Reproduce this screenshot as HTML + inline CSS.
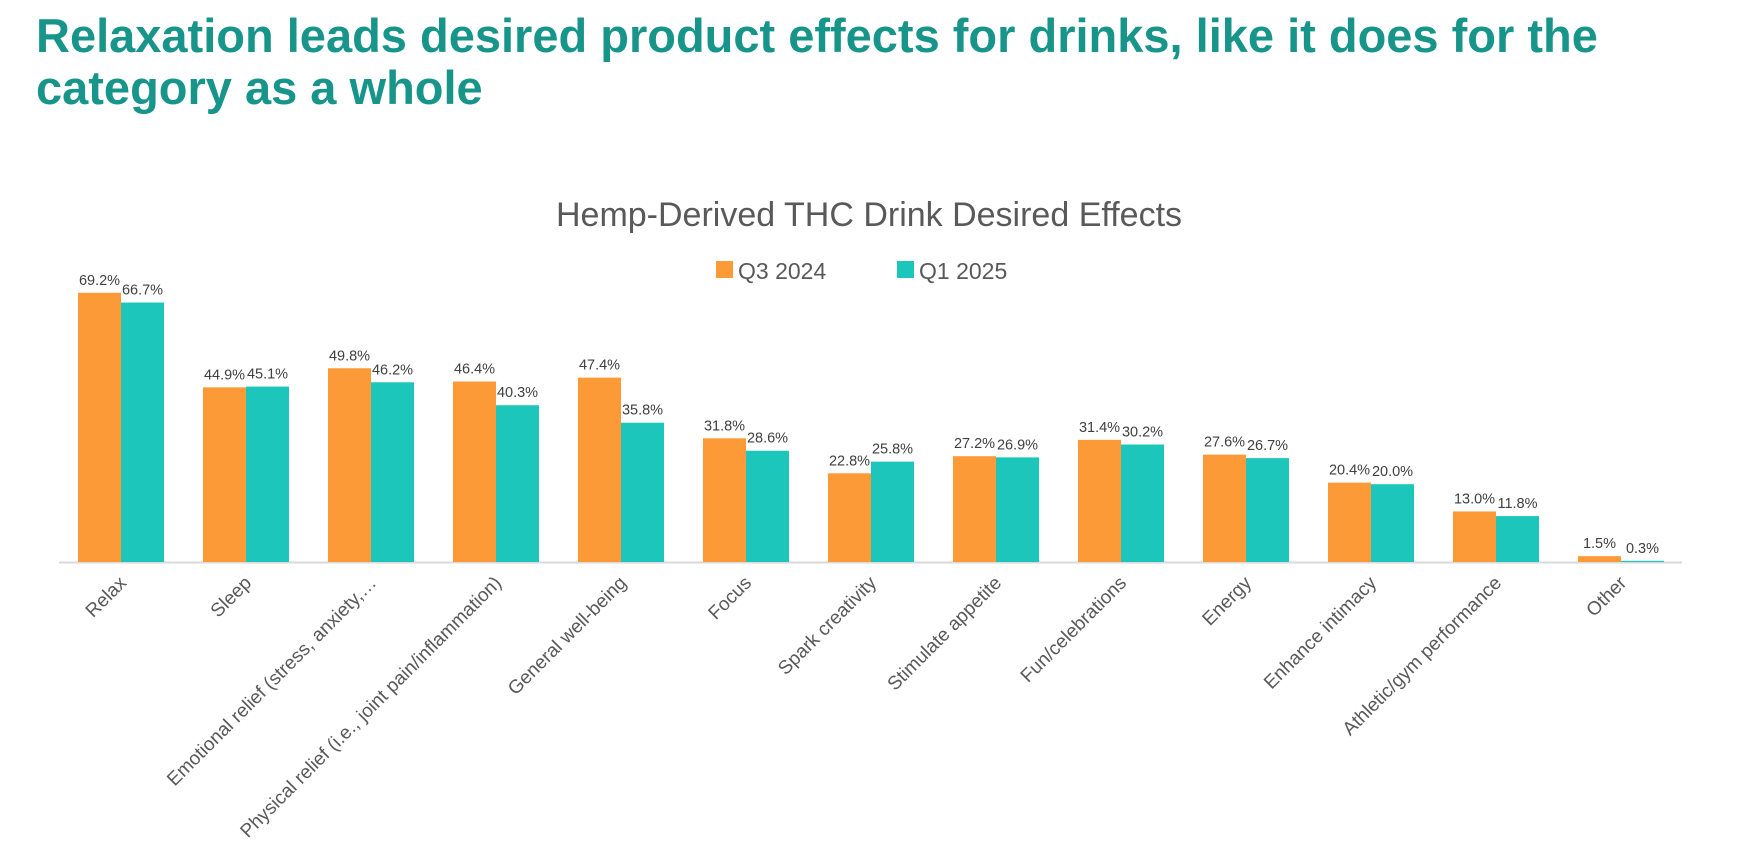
<!DOCTYPE html>
<html><head><meta charset="utf-8"><style>
body{margin:0;background:#fff;width:1742px;height:854px;overflow:hidden}
svg{display:block}
</style></head><body>
<svg id="chart" width="1742" height="854" font-family="'Liberation Sans', sans-serif">
<text x="36" y="52" font-size="47" font-weight="bold" fill="#17958a">Relaxation leads desired product effects for drinks, like it does for the</text>
<text x="36" y="104" font-size="47" font-weight="bold" fill="#17958a">category as a whole</text>
<text x="869" y="226" font-size="34" fill="#595959" text-anchor="middle">Hemp-Derived THC Drink Desired Effects</text>
<g>
<rect x="716" y="261" width="17" height="17" fill="#fd9a38"/>
<text x="738" y="279" font-size="23" fill="#595959">Q3 2024</text>
<rect x="897" y="261" width="17" height="17" fill="#1cc6bb"/>
<text x="919" y="279" font-size="23" fill="#595959">Q1 2025</text>
</g>
<line x1="59" y1="562.5" x2="1682" y2="562.5" stroke="#d9d9d9" stroke-width="2"/>
<g id="bars"></g>
</svg>
<script>
const categories = ["Relax","Sleep","Emotional relief (stress, anxiety,…","Physical relief (i.e., joint pain/inflammation)","General well-being","Focus","Spark creativity","Stimulate appetite","Fun/celebrations","Energy","Enhance intimacy","Athletic/gym performance","Other"];
const q3_2024 = [69.2,44.9,49.8,46.4,47.4,31.8,22.8,27.2,31.4,27.6,20.4,13.0,1.5];
const q1_2025 = [66.7,45.1,46.2,40.3,35.8,28.6,25.8,26.9,30.2,26.7,20.0,11.8,0.3];

const NS="http://www.w3.org/2000/svg";
const g=document.getElementById('bars');
const x0=59, step=125, base=562, pxPer=3.89, bw=43, off=19;
const xScale=i=>x0+i*step;
const yScale=v=>base-v*pxPer;
function mk(tag,attrs){const e=document.createElementNS(NS,tag);for(const k in attrs)e.setAttribute(k,attrs[k]);g.appendChild(e);return e;}
const series=[[q3_2024,'#fd9a38','q3-2024'],[q1_2025,'#1cc6bb','q1-2025']];
categories.forEach((c,i)=>{
  series.forEach(([arr,col,nm],s)=>{
    const x=xScale(i)+off+s*bw, y=yScale(arr[i]);
    const r=mk('rect',{x:x,y:y,width:bw,height:base-y,fill:col});
    
    
    const t=mk('text',{x:x+bw/2,y:y-8,'font-size':14.5,fill:'#404040','text-anchor':'middle'});
    t.textContent=arr[i].toFixed(1)+'%';
    
    
  });
  const cx=xScale(i)+step/2+6, cy=base+22;
  const l=mk('text',{x:cx,y:cy,'font-size':19,fill:'#595959','text-anchor':'end',transform:'rotate(-45 '+cx+' '+cy+')'});
  l.textContent=c;
  
  
});
</script>
</body></html>
